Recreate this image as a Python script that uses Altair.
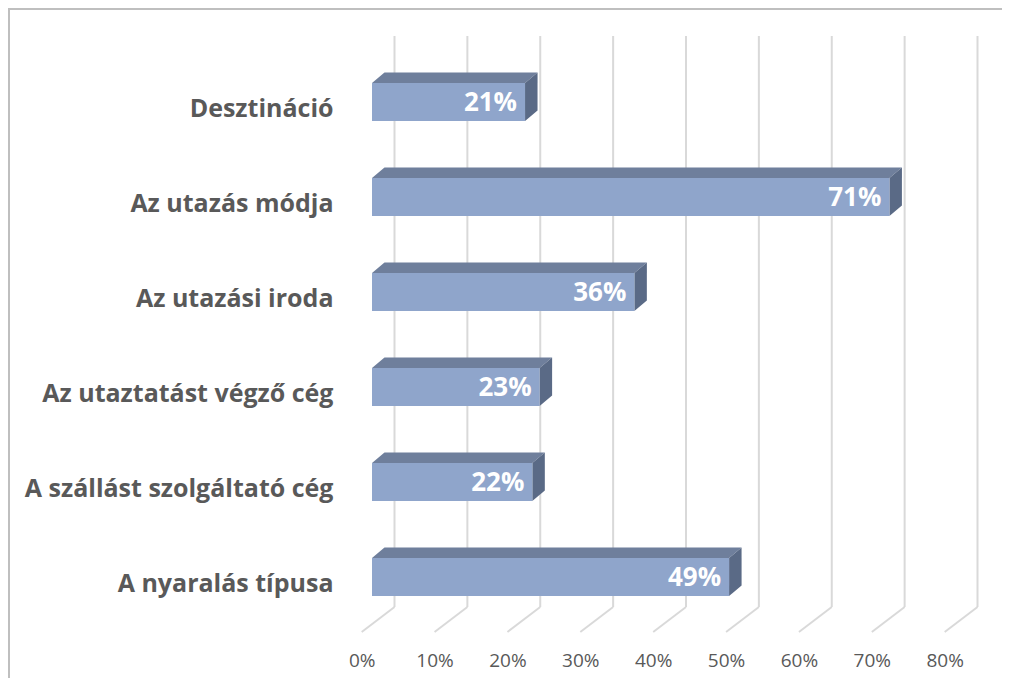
import altair as alt
import pandas as pd

# ---- data ----
categories = [
    "Desztináció",
    "Az utazás módja",
    "Az utazási iroda",
    "Az utaztatást végző cég",
    "A szállást szolgáltató cég",
    "A nyaralás típusa",
]
values = [21, 71, 36, 23, 22, 49]
ticks = [0, 10, 20, 30, 40, 50, 60, 70, 80]

# ---- layout constants (pixels) ----
W, H = 583, 624
PAD = {"left": 364, "top": 0, "right": 47, "bottom": 46}
PX_PER_PCT = W / 80.0
PX_PER_CAT = 95.0
CAT0_PX = 94.0
Y_TOP = -CAT0_PX / PX_PER_CAT
Y_BOT = (H - CAT0_PX) / PX_PER_CAT

HALF = 0.2                      # half bar thickness (category units)
DEPTH_X = 12.5 / PX_PER_PCT     # 3D depth in % units
DEPTH_Y = 10.5 / PX_PER_CAT     # 3D depth in category units
WALL_TOP = (28 - CAT0_PX) / PX_PER_CAT
WALL_BOT = (599 - CAT0_PX) / PX_PER_CAT
BACK_DX = 22.5
FRONT_DX = -10.3

FRONT_C = "#8FA5CB"
TOP_C = "#6F7F9C"
SIDE_C = "#5A6A86"
GRID_C = "#D9D9D9"
FONT = "Open Sans"

xs = alt.Scale(domain=[0, 80], nice=False, zero=False)
ys = alt.Scale(domain=[Y_TOP, Y_BOT], nice=False, zero=False, reverse=True)

bars = pd.DataFrame({"name": categories, "v": values, "i": list(range(len(categories)))})
bars["y1"] = bars["i"] - HALF
bars["y2"] = bars["i"] + HALF
bars["x0"] = 0.0
bars["lbl"] = [f"{v}%" for v in values]

top_rows, side_rows = [], []
for name, v, y1, y2 in zip(bars["name"], bars["v"], bars["y1"], bars["y2"]):
    top_rows.append({"name": name, "yy": y1, "a": 0.0, "b": v})
    top_rows.append({"name": name, "yy": y1 - DEPTH_Y, "a": DEPTH_X, "b": v + DEPTH_X})
    side_rows.append({"name": name, "xx": v, "a": y1, "b": y2})
    side_rows.append({"name": name, "xx": v + DEPTH_X, "a": y1 - DEPTH_Y, "b": y2 - DEPTH_Y})
top_df = pd.DataFrame(top_rows)
side_df = pd.DataFrame(side_rows)

grid = pd.DataFrame({"t": ticks})
grid["w_top"] = WALL_TOP
grid["w_bot"] = WALL_BOT
grid["f_bot"] = Y_BOT

label_expr = "[" + ",".join("'" + c + "'" for c in categories) + "][datum.value]"

x_axis = alt.Axis(
    values=ticks, labelExpr="datum.value + '%'", domain=False, ticks=False, grid=False,
    labelOffset=FRONT_DX, labelFlush=False, labelOverlap=False,
    labelFont=FONT, labelFontSize=19, labelColor="#595959",
    labelBaseline="middle", labelPadding=28, title=None,
)
y_axis = alt.Axis(
    values=list(range(len(categories))), labelExpr=label_expr, domain=False, ticks=False,
    grid=False, labelFont=FONT, labelFontSize=25, labelFontWeight="bold",
    labelColor="#595959", labelPadding=39, labelOffset=6, labelBaseline="middle",
    labelLimit=400, labelOverlap=False, title=None,
)

wall = alt.Chart(grid).mark_rule(color=GRID_C, strokeWidth=2, xOffset=BACK_DX, x2Offset=BACK_DX).encode(
    x=alt.X("t:Q", scale=xs, axis=x_axis), x2="t:Q",
    y=alt.Y("w_top:Q", scale=ys, axis=y_axis), y2="w_bot:Q",
)
floor = alt.Chart(grid).mark_rule(color=GRID_C, strokeWidth=2, xOffset=BACK_DX, x2Offset=FRONT_DX).encode(
    x=alt.X("t:Q", scale=xs), x2="t:Q",
    y=alt.Y("w_bot:Q", scale=ys), y2="f_bot:Q",
)

top_face = alt.Chart(top_df).mark_area(orient="horizontal", color=TOP_C).encode(
    y=alt.Y("yy:Q", scale=ys),
    x=alt.X("a:Q", scale=xs, stack=None), x2="b:Q",
    detail="name:N",
)
side_face = alt.Chart(side_df).mark_area(orient="vertical", color=SIDE_C).encode(
    x=alt.X("xx:Q", scale=xs),
    y=alt.Y("a:Q", scale=ys, stack=None), y2="b:Q",
    detail="name:N",
)
front = alt.Chart(bars).mark_rect(color=FRONT_C).encode(
    x=alt.X("x0:Q", scale=xs), x2="v:Q",
    y=alt.Y("y1:Q", scale=ys), y2="y2:Q",
)
labels = alt.Chart(bars).mark_text(
    color="white", font=FONT, fontSize=26, fontWeight="bold", align="right",
    baseline="middle", dx=-8, dy=1,
).encode(
    x=alt.X("v:Q", scale=xs), y=alt.Y("i:Q", scale=ys),
    text="lbl:N",
)

border_df = pd.DataFrame({"k": [0]})
border_top = alt.Chart(border_df).mark_rule(color="#BFBFBF", strokeWidth=2).encode(
    x=alt.value(-363), x2=alt.value(W + PAD["right"]), y=alt.value(1), y2=alt.value(1),
)
border_left = alt.Chart(border_df).mark_rule(color="#BFBFBF", strokeWidth=2).encode(
    x=alt.value(-363), x2=alt.value(-363), y=alt.value(0), y2=alt.value(H + PAD["bottom"]),
)

chart = alt.layer(
    wall, floor, top_face, side_face, front, labels, border_top, border_left
).properties(
    width=W, height=H, padding=PAD,
    autosize=alt.AutoSizeParams(type="none"),
    background="white",
).configure_view(stroke=None)

chart.save("out.html", embed_options={"renderer": "svg", "actions": False})
